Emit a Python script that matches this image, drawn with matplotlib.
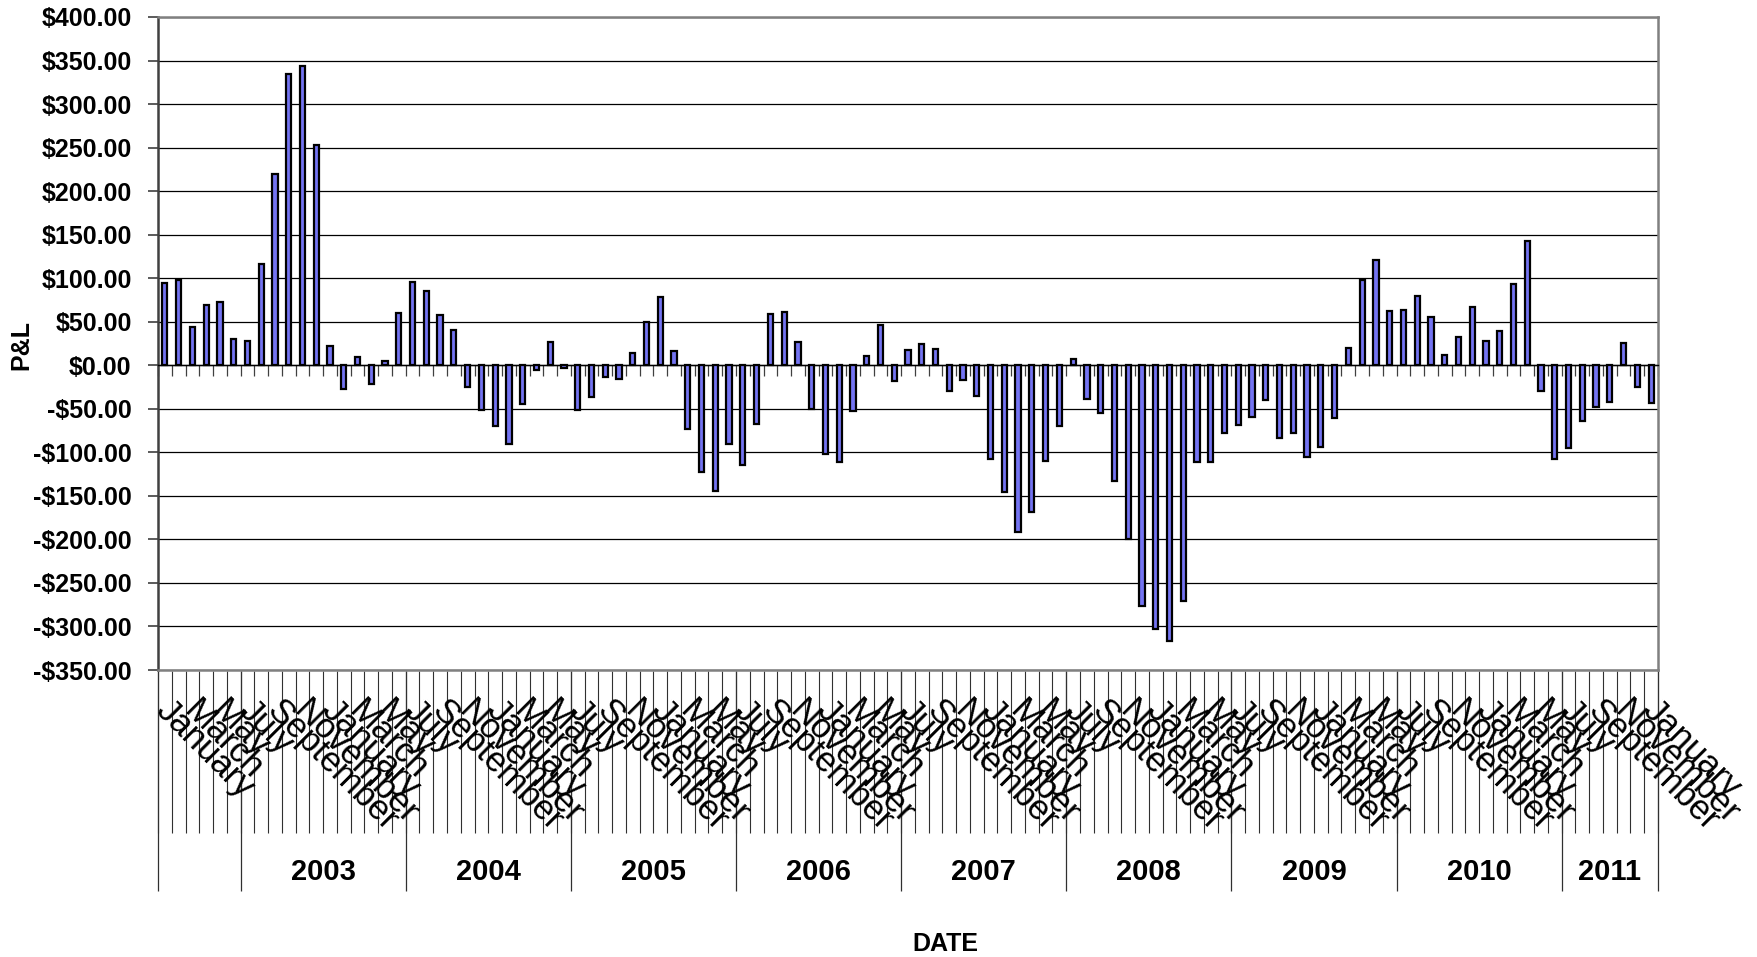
import matplotlib
matplotlib.use('Agg')
import matplotlib.pyplot as plt
import matplotlib.transforms as mtransforms
import numpy as np

plt.rcParams['font.family'] = ['Liberation Sans', 'DejaVu Sans']

# monthly P&L, one value per month
pnl = [94, 98, 44, 69, 73, 30, 28, 116, 220, 334, 344, 253,
       22, -27, 9, -22, 5, 60, 96, 85, 58, 41, -25, -51,
       -70, -90, -45, -6, 27, -3, -51, -37, -14, -16, 14, 50,
       78, 16, -73, -123, -144, -91, -115, -67, 59, 61, 27, -50,
       -102, -111, -53, 11, 46, -18, 18, 25, 19, -30, -17, -35,
       -108, -145, -191, -169, -110, -70, 7, -39, -55, -133, -200, -276,
       -303, -317, -271, -111, -111, -78, -69, -59, -40, -83, -78, -105,
       -94, -61, 20, 98, 121, 62, 63, 80, 56, 12, 33, 67,
       28, 39, 93, 143, -29, -108, -95, -64, -48, -42, 26, -25,
       -43]

year_labels = ['', '2003', '2004', '2005', '2006', '2007', '2008', '2009', '2010', '2011']
months_per_year = [6, 12, 12, 12, 12, 12, 12, 12, 12, 7]
month_cycle = ['January', 'March', 'May', 'July', 'September', 'November']

y_ticks = list(range(-350, 401, 50))

W, H = 1757, 957
fig = plt.figure(figsize=(W / 100, H / 100), dpi=100)
ax = fig.add_axes([158 / W, 1 - 670 / H, 1500 / W, 653 / H])

n = len(pnl)
x = np.arange(n)
ax.bar(x, pnl, width=0.38, color='#7474F2', edgecolor='black', linewidth=1.6, zorder=3)

ax.set_xlim(-0.5, n - 0.5)
ax.set_ylim(-350, 400)
ax.set_yticks(y_ticks)
ax.set_yticklabels([('-$%.2f' % -v) if v < 0 else ('$%.2f' % v) for v in y_ticks],
                   fontsize=18, fontweight='bold')
ax.tick_params(axis='y', direction='out', length=7, width=1.2, color='#404040', pad=12)
ax.yaxis.grid(True, color='black', linewidth=0.9, zorder=0)
ax.set_axisbelow(True)

# category axis crosses at zero, ticks between months
ax.spines['bottom'].set_position(('data', 0))
ax.spines['bottom'].set_color('black')
ax.spines['bottom'].set_linewidth(1.0)
ax.set_xticks(np.arange(n + 1) - 0.5)
ax.tick_params(axis='x', direction='out', length=8, width=0.9, color='#404040', labelbottom=False)
ax.spines['left'].set_color('#404040')
ax.spines['left'].set_linewidth(1.8)
for s in ['top', 'right']:
    ax.spines[s].set_color('#808080')
    ax.spines[s].set_linewidth(1.8)
ax.axhline(-350, color='#808080', linewidth=1.8, clip_on=False, zorder=4)

# two level category labels under the plot
trans = mtransforms.blended_transform_factory(ax.transData, fig.transFigure)
y_top = 1 - 671 / H
y_low = 1 - 833 / H
y_year = 1 - 891 / H
ax.vlines(np.arange(n + 1) - 0.5, y_low, y_top, transform=trans, colors='#303030',
          linewidth=0.8, clip_on=False)

for i in range(0, n, 2):
    ax.text(i + 0.6, 1 - 694 / H, month_cycle[(i // 2) % 6], transform=trans,
            rotation=-45, rotation_mode='anchor', ha='left', va='top', fontsize=25)

start = 0
edges = [-0.5]
for label, m in zip(year_labels, months_per_year):
    ax.text(start + m / 2 - 0.5, 1 - 872 / H, label, transform=trans,
            ha='center', va='center', fontsize=21, fontweight='bold')
    start += m
    edges.append(start - 0.5)
ax.vlines(edges, y_year, y_top, transform=trans, colors='#303030', linewidth=0.9, clip_on=False)

fig.text(21 / W, 1 - 345 / H, 'P&L', rotation=90, ha='center', va='center',
         fontsize=18, fontweight='bold')
fig.text(945 / W, 1 - 944 / H, 'DATE', ha='center', va='center', fontsize=18, fontweight='bold')

fig.savefig('out.png', dpi=100)
